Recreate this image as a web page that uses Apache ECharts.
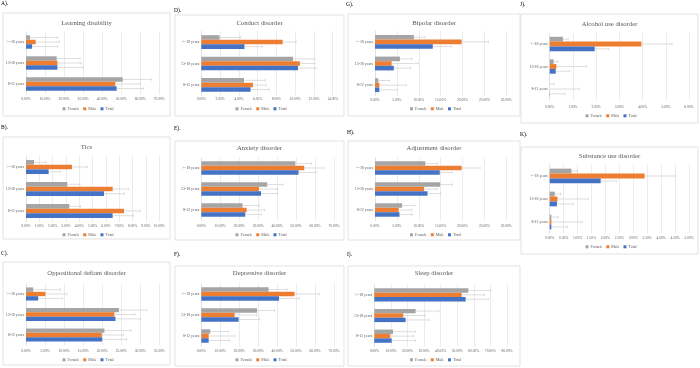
<!DOCTYPE html>
<html>
<head>
<meta charset="utf-8">
<script src="https://cdn.jsdelivr.net/npm/echarts@6/dist/echarts.min.js"></script>
<style>html,body{margin:0;padding:0;background:#fff}#c{width:700px;height:368px}</style>
</head>
<body>
<div id="c"></div>
<script>
// ---------- data ----------
const categories = ['8-12 years', '13-18 years', '>=18 years'];
const seriesNames = ['Female', 'Male', 'Total'];
const panelLabels = ['A).', 'B).', 'C).', 'D).', 'E).', 'F).', 'G).', 'H).', 'I).', 'J).', 'K).'];
const panelTitles = ['Learning disability', 'Tics', 'Oppositional defiant disorder', 'Conduct disorder',
  'Anxiety disorder', 'Depressive disorder', 'Bipolar disorder', 'Adjustment disorder', 'Sleep disorder',
  'Alcohol use disorder', 'Substance use disorder'];
const axisMax = [70, 10, 35, 14, 70, 70, 30, 30, 80, 6, 5];
const axisStep = [10, 1, 5, 2, 10, 10, 5, 5, 10, 1, 0.5];
// values in percent, order: 8-12, 13-18, >=18
const femaleValues = [
  [50.8, 16.1, 2.1], [3.25, 3.1, 0.6], [20.6, 24.4, 1.9], [4.55, 9.77, 1.95], [21.8, 34.8, 49.6],
  [4.7, 29.4, 35.5], [0.76, 5.7, 8.9], [6.2, 14.9, 11.5], [11.3, 24.9, 56.7], [0, 0.17, 0.57], [0.06, 0.18, 0.78]];
const maleValues = [
  [46.9, 16.5, 5.1], [7.35, 6.5, 3.45], [19.9, 23.2, 5.1], [5.5, 10.5, 8.67], [23.9, 30.4, 54.3],
  [3.9, 17.6, 49.2], [1.0, 3.8, 19.8], [5.4, 11.2, 19.8], [9.6, 17.5, 52.7], [0, 0.29, 3.95], [0.06, 0.28, 3.41]];
const totalValues = [
  [47.6, 16.5, 3.2], [6.5, 5.85, 1.7], [20.0, 23.5, 3.2], [5.25, 10.3, 4.6], [23.2, 31.5, 51.3],
  [3.9, 19.7, 41.0], [1.0, 4.3, 13.2], [5.6, 12.0, 14.8], [10.5, 18.9, 55.1], [0.01, 0.26, 1.94], [0.06, 0.26, 1.83]];
// upper confidence limits (percent)
const femaleUpper = [
  [66, 28.4, 16.5], [4.1, 4.05, 1.5], [27.6, 31.7, 9.1], [6.8, 12.1, 4.2], [30.6, 43, 58],
  [14.4, 38.7, 45.2], [3.4, 8.4, 11.4], [9.1, 17.7, 14.3], [24.9, 39, 70.2], [0.19, 0.36, 0.8], [0.3, 0.39, 0.99]];
const maleUpper = [
  [60, 29, 17.5], [8.55, 7.7, 4.6], [25.6, 28.6, 10.7], [6.9, 12.1, 10.1], [33.4, 40.2, 64.5],
  [17.6, 29.4, 62.4], [7.1, 9.9, 25.9], [8.4, 14.1, 24], [23.5, 30.6, 66.3], [1.29, 1.58, 5.27], [1.16, 1.38, 4.51]];
const totalUpper = [
  [61.6, 30, 16.5], [8.05, 7.4, 2.6], [26.4, 30, 9.6], [7.2, 12.2, 6.5], [31.6, 40.2, 60.5],
  [14.9, 30.8, 51.7], [5.0, 8.1, 17.4], [8.5, 15, 17.7], [24.9, 33, 68.7], [0.65, 0.86, 2.54], [0.63, 0.84, 2.39]];

// ---------- layout (pixels) ----------
// box: [x, y, w, h]; lab: [x, y]; titleY; grid: [left, top, width, height]; xlabY; legY
const layout = [
  {box: [3, 13, 167, 103], lab: [1, 4], titleY: 23, grid: [26, 31.5, 133.3, 63], xlabY: 99, legY: 109},
  {box: [3, 137, 167, 102], lab: [1, 128], titleY: 147, grid: [26, 156, 133.3, 66], xlabY: 226, legY: 235},
  {box: [3, 262, 167, 103], lab: [1, 254], titleY: 273, grid: [26, 283.75, 133.3, 61.5], xlabY: 351, legY: 360},
  {box: [175, 15, 169, 101], lab: [174, 11], titleY: 23, grid: [201.3, 31.3, 131.4, 64.4], xlabY: 99, legY: 109},
  {box: [175, 141, 169, 99], lab: [174, 129], titleY: 148, grid: [201.3, 157.5, 132.7, 63], xlabY: 226, legY: 235},
  {box: [175, 266, 169, 100], lab: [174, 255], titleY: 273, grid: [201.3, 283.5, 132.7, 63], xlabY: 351, legY: 360},
  {box: [348, 14, 172, 102], lab: [346, 5], titleY: 23, grid: [375, 31, 131.3, 65], xlabY: 100, legY: 109},
  {box: [348, 141, 172, 99], lab: [347, 133], titleY: 148, grid: [375, 157.5, 131.3, 63], xlabY: 226, legY: 235},
  {box: [348, 266, 172, 100], lab: [347, 255], titleY: 273, grid: [374.3, 284.5, 132.7, 62], xlabY: 351, legY: 360},
  {box: [521, 14, 177, 109], lab: [520, 5], titleY: 24, grid: [549.7, 32.75, 139.3, 67.5], xlabY: 107, legY: 116},
  {box: [521, 147, 177, 107], lab: [520, 135], titleY: 156, grid: [549.7, 164.5, 139.3, 69], xlabY: 238, legY: 247}
];

const colors = ['#a5a5a5', '#ed7d31', '#4472c4'];
const FONT = '"Liberation Serif", "Times New Roman", serif';
const CAT_GAP = 0.36;

const grids = [], xAxes = [], yAxes = [], series = [], legends = [], graphics = [];

function errorRenderer(sIdx) {
  return function (params, api) {
    const v = api.value(0), c = api.value(1), up = api.value(2);
    const p0 = api.coord([v, c]);
    const p1 = api.coord([up, c]);
    const band = api.size([0, 1])[1];
    const bw = band * (1 - CAT_GAP) / 3;
    const y = p0[1] + (sIdx - 1) * bw;
    const st = {stroke: '#c8c8c8', lineWidth: 0.6};
    return {type: 'group', children: [
      {type: 'line', shape: {x1: p0[0], y1: y, x2: p1[0], y2: y}, style: st},
      {type: 'line', shape: {x1: p1[0], y1: y - 1.3, x2: p1[0], y2: y + 1.3}, style: st}
    ]};
  };
}

layout.forEach((L, i) => {
  const [gl, gt, gw, gh] = L.grid;
  grids.push({left: gl, top: gt, width: gw, height: gh, containLabel: false, outerBoundsMode: 'none'});
  xAxes.push({
    type: 'value', gridIndex: i, min: 0, max: axisMax[i], interval: axisStep[i],
    axisLine: {show: false}, axisTick: {show: false},
    splitLine: {show: true, lineStyle: {color: '#d9d9d9', width: 0.5}},
    axisLabel: {fontFamily: FONT, fontSize: 3.6, color: '#595959', margin: L.xlabY - (gt + gh) - 1.8,
      formatter: v => v.toFixed(2) + '%'}
  });
  yAxes.push({
    type: 'category', gridIndex: i, data: categories,
    axisLine: {show: true, lineStyle: {color: '#d9d9d9', width: 0.5}}, axisTick: {show: false},
    axisLabel: {fontFamily: FONT, fontSize: 3.9, color: '#595959', margin: 2}
  });
  const vals = [femaleValues[i], maleValues[i], totalValues[i]];
  const ups = [femaleUpper[i], maleUpper[i], totalUpper[i]];
  vals.forEach((arr, s) => {
    series.push({
      type: 'bar', name: seriesNames[s], xAxisIndex: i, yAxisIndex: i, data: arr,
      barCategoryGap: (CAT_GAP * 100) + '%', barGap: '0%', itemStyle: {color: colors[s]},
      silent: true, animation: false
    });
  });
  vals.forEach((arr, s) => {
    series.push({
      type: 'custom', xAxisIndex: i, yAxisIndex: i, renderItem: errorRenderer(s),
      encode: {x: 0, y: 1}, data: arr.map((v, k) => [v, k, ups[s][k]]), silent: true, animation: false, z: 5
    });
  });
  const [bx, by, bw, bh] = L.box;
  const cx = bx + bw / 2;
  legends.push({
    data: seriesNames, left: cx - 24, top: L.legY - 2.2, icon: 'rect', itemWidth: 3, itemHeight: 3, itemGap: 4,
    textStyle: {fontFamily: FONT, fontSize: 4, color: '#595959', padding: [0, 0, 0, -3]}, padding: 0, selectedMode: false
  });
  graphics.push({type: 'rect', shape: {x: bx, y: by, width: bw, height: bh}, style: {fill: 'none', stroke: '#d9d9d9', lineWidth: 0.75}, silent: true});
  graphics.push({type: 'text', x: cx, y: L.titleY, style: {text: panelTitles[i], font: '6.7px ' + FONT, fill: '#595959', textAlign: 'center', textVerticalAlign: 'middle'}, silent: true});
  graphics.push({type: 'text', x: L.lab[0], y: L.lab[1], style: {text: panelLabels[i], font: '5.5px ' + FONT, fill: '#000', textAlign: 'left', textVerticalAlign: 'middle'}, silent: true});
});

const chart = echarts.init(document.getElementById('c'), null, {renderer: 'canvas'});
chart.setOption({
  animation: false,
  backgroundColor: '#fff',
  grid: grids, xAxis: xAxes, yAxis: yAxes, series: series, legend: legends, graphic: graphics
});
</script>
</body>
</html>
